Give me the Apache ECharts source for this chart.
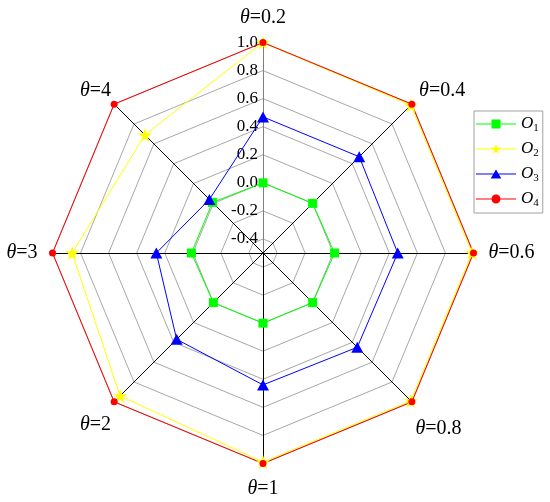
<!DOCTYPE html>
<html><head><meta charset="utf-8">
<script src="https://cdn.jsdelivr.net/npm/echarts@6/dist/echarts.min.js"></script>
<style>html,body{margin:0;padding:0;background:#fff}#c{width:550px;height:502px}</style>
</head><body><div id="c"></div>
<script>
// Categories, clockwise from the top as in the picture
const thetas = ['0.2', '0.4', '0.6', '0.8', '1', '2', '3', '4'];
// Series values, same order as thetas
const O1 = [0.00, 0.00, 0.01, 0.00, 0.00, 0.00, 0.01, 0.01];
const O2 = [1.00, 0.99, 0.99, 0.99, 0.99, 0.94, 0.86, 0.69];
const O3 = [0.47, 0.47, 0.46, 0.45, 0.44, 0.37, 0.26, 0.04];
const O4 = [1.00, 1.00, 1.00, 1.00, 1.00, 1.00, 1.00, 1.00];
const seriesNames = ['O1', 'O2', 'O3', 'O4'];
const seriesValues = [O1, O2, O3, O4];
const axisMin = -0.5, axisMax = 1.0;
const tickLabels = ['-0.4', '-0.2', '0.0', '0.2', '0.4', '0.6', '0.8', '1.0'];

const colors = ['#00ff00', '#ffff00', '#0000ff', '#ff0000'];
const FONT = "'Liberation Serif','Times New Roman',serif";

// per-name placement tweaks (nameGap, padding) keyed by theta
const nameTweaks = {
  '0.4': { gap: 10.2, pad: [0, 0, 12, 0] },
  '0.8': { gap: 5.1, pad: [46, 0, 0, 0] },
  '2':   { gap: 4.4, pad: [39, 0, 0, 0] },
  '4':   { gap: 4.4, pad: [0, 0, 21, 0] }
};

// ECharts places radar indicators counter-clockwise; reorder to match clockwise layout
const order = [0, 7, 6, 5, 4, 3, 2, 1];
const reorder = arr => order.map(i => arr[i]);

function starPts(cx, cy, R, r) {
  let p = [];
  for (let k = 0; k < 10; k++) {
    const a = -Math.PI / 2 + k * Math.PI / 5;
    const rr = k % 2 === 0 ? R : r;
    p.push((cx + rr * Math.cos(a)).toFixed(2) + ',' + (cy + rr * Math.sin(a)).toFixed(2));
  }
  return 'M' + p.join('L') + 'Z';
}
const corners = 'M0,0L0.01,0L0.01,0.01Z M39.99,9.99L40,9.99L40,10Z ';
const lineSeg = 'M0,4.5L40,4.5L40,5.5L0,5.5Z ';
const legendIcons = [
  'path://' + corners + lineSeg + 'M15.5,0.5L24.5,0.5L24.5,9.5L15.5,9.5Z',
  'path://' + corners + lineSeg + starPts(20, 5.3, 5.4, 2.2),
  'path://' + corners + lineSeg + 'M20,0.5L25.3,9.5L14.7,9.5Z',
  'path://' + corners + lineSeg + 'M24.5,5A4.5,4.5 0 1,1 15.5,5A4.5,4.5 0 1,1 24.5,5Z'
];
const seriesSymbols = ['rect', 'path://' + starPts(50, 52, 50, 20), 'triangle', 'circle'];
const seriesSymbolSizes = [9, 14, [12, 11], 7];

const indicators = order.map((i, n) => {
  const ind = { name: thetas[i], min: axisMin, max: axisMax };
  const tw = nameTweaks[thetas[i]];
  if (tw) {
    ind.nameGap = tw.gap;
    ind.nameTextStyle = { padding: tw.pad };
  }
  if (n === 0) {
    ind.axisLabel = {
      show: true, margin: 5, color: '#000', fontFamily: FONT, fontSize: 17,
      formatter: v => {
        const s = (Math.round(v * 10) / 10).toFixed(1);
        return tickLabels.indexOf(s) >= 0 ? s : '';
      }
    };
    ind.axisLine = { lineStyle: { color: '#808080', width: 1 } };
  }
  return ind;
});

const chart = echarts.init(document.getElementById('c'));
chart.setOption({
  animation: false,
  backgroundColor: '#ffffff',
  legend: {
    orient: 'vertical',
    left: 474, top: 111,
    padding: [3, 4, 4, 2],
    itemWidth: 40, itemHeight: 10, itemGap: 5,
    borderColor: '#a0a0a0', borderWidth: 1, backgroundColor: '#fff',
    selectedMode: false,
    data: seriesNames.map((n, i) => ({ name: n, icon: legendIcons[i], itemStyle: { color: colors[i], borderWidth: 0 } })),
    formatter: n => '{o|' + n.charAt(0) + '}{s|' + n.slice(1) + '}',
    textStyle: {
      rich: {
        o: { fontFamily: FONT, fontStyle: 'italic', fontSize: 17, color: '#000', lineHeight: 20 },
        s: { fontFamily: FONT, fontSize: 11, color: '#000', lineHeight: 20, padding: [9, 0, 0, 0] }
      }
    }
  },
  radar: {
    center: [263, 253],
    radius: 210.5,
    startAngle: 90,
    splitNumber: 15,
    shape: 'polygon',
    nameGap: 15,
    axisName: {
      color: '#000', fontFamily: FONT, fontSize: 20,
      formatter: name => '{i|θ}{n|=' + name + '}',
      rich: {
        i: { fontFamily: FONT, fontStyle: 'italic', fontSize: 20, color: '#000' },
        n: { fontFamily: FONT, fontSize: 20, color: '#000' }
      }
    },
    indicator: indicators,
    axisLine: { lineStyle: { color: '#000', width: 1 } },
    axisTick: { show: false },
    axisLabel: { show: false },
    splitLine: { lineStyle: { color: ['rgba(0,0,0,0)', '#a8a8a8'], width: 1 } },
    splitArea: { show: false }
  },
  series: seriesNames.map((n, i) => ({
    type: 'radar',
    name: n,
    symbol: seriesSymbols[i],
    symbolSize: seriesSymbolSizes[i],
    lineStyle: { color: colors[i], width: 1 },
    itemStyle: { color: colors[i], borderWidth: 0 },
    data: [{ name: n, value: reorder(seriesValues[i]) }]
  }))
});
</script></body></html>
